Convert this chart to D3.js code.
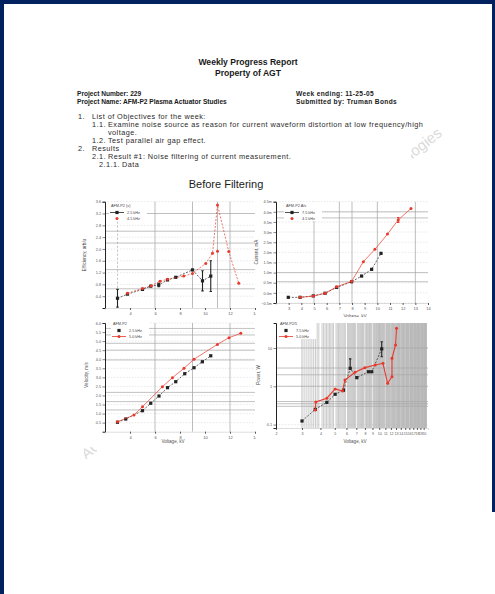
<!DOCTYPE html>
<html>
<head>
<meta charset="utf-8">
<script src="https://cdn.jsdelivr.net/npm/d3@7"></script>
<style>
  body { margin: 0; background: #fff; }
  svg { display: block; }
</style>
</head>
<body>
<svg id="page" width="495" height="594"></svg>
<script>
// ---------- Report header text ----------
const reportTitle = ["Weekly Progress Report", "Property of AGT"];
const projectLeft = ["Project Number:  229", "Project Name:  AFM-P2 Plasma Actuator Studies"];
const projectRight = ["Week ending:  11-25-05", "Submitted by:  Truman Bonds"];
const outlineNums = ["1.", "1.1.", "", "1.2.", "2.", "2.1.", "2.1.1."];
const outlineText = [
  "List of Objectives for the week:",
  "Examine noise source as reason for current waveform distortion at low frequency/high",
  "voltage.",
  "Test parallel air gap effect.",
  "Results",
  "Result #1:  Noise filtering of current measurement.",
  "Data"
];
const sectionTitle = "Before Filtering";
const watermarkText = "AGT Technologies";

// ---------- Efficiency vs voltage ----------
const effVoltBlack = [3.0, 3.8, 5.0, 5.66, 6.3, 7.0, 7.66, 9.0, 9.8, 10.46];
const effBlack     = [0.33, 0.47, 0.63, 0.74, 0.78, 0.95, 1.04, 1.29, 0.92, 1.08];
const effBlackErr  = [0.30, 0, 0, 0, 0.06, 0, 0, 0, 0.34, 0.52];
const effVoltRed   = [3.8, 5.0, 5.7, 6.4, 7.0, 8.3, 9.0, 10.06, 10.6, 11.0, 11.9, 12.7];
const effRed       = [0.50, 0.66, 0.75, 0.91, 0.97, 1.08, 1.17, 1.51, 1.85, 3.49, 1.91, 0.84];
const effRedExtraV = [11.0];
const effRedExtra  = [1.92];
const effYTicks = [0.4, 0.8, 1.2, 1.6, 2.0, 2.4, 2.8, 3.2, 3.6];
const effXTicks = [4, 6, 8, 10, 12, 14];
const effGridY = [0.65, 1.3, 2.2, 2.6, 3.2];
const effGridX = [6, 9, 11, 12];
const effLegend = ["AFM-P2 (v)", "2.5 kHz", "4.5 kHz"];

// ---------- Current vs voltage ----------
const curVoltBlack = [2.97, 3.9, 4.94, 5.87, 6.79, 7.97, 8.76, 9.55, 10.29];
const curBlack     = [-0.22, -0.22, -0.15, -0.02, 0.27, 0.55, 0.83, 1.16, 1.95];
const curVoltRed   = [3.9, 4.94, 5.87, 6.79, 7.97, 8.9, 9.81, 10.8, 11.65, 12.66];
const curRed       = [-0.22, -0.16, -0.02, 0.30, 0.57, 1.54, 2.15, 2.9, 3.6, 4.17];
const curRedErr    = [0, 0, 0, 0, 0, 0, 0, 0, 0.12, 0];
const curYTicks = [-0.5, 0, 0.5, 1.0, 1.5, 2.0, 2.5, 3.0, 3.5, 4.0, 4.5];
const curXTicks = [3, 4, 5, 6, 7, 8, 9, 10, 11, 12, 13, 14];
const curGridY = [0.55, 1.0, 3.7, 4.0];
const curGridX = [5, 7, 8, 10, 13];
const curLegend = ["AFM-P2 A/s", "7.5 kHz", "4.5 kHz"];

// ---------- Velocity vs voltage ----------
const velVoltBlack = [3.0, 3.66, 5.0, 5.66, 6.32, 7.0, 7.66, 8.38, 9.12, 9.79, 10.46];
const velBlack     = [0.52, 0.70, 1.16, 1.57, 1.97, 2.43, 2.76, 3.20, 3.53, 3.86, 4.19];
const velVoltRed   = [3.0, 4.32, 5.0, 6.59, 7.39, 8.32, 9.12, 10.99, 11.92, 12.86];
const velRed       = [0.55, 0.92, 1.38, 2.48, 2.98, 3.50, 4.00, 4.82, 5.19, 5.43];
const velYTicks = [0.5, 1.0, 1.5, 2.0, 2.5, 3.0, 3.5, 4.0, 4.5, 5.0, 5.5, 6.0];
const velXTicks = [4, 6, 8, 10, 12, 14];
const velGridY = [1.2, 1.66, 2.17, 3.96, 4.5, 4.88, 5.34, 5.7];
const velGridX = [6, 9, 12];
const velLegend = ["AFM-P2", "2.5 kHz", "5.0 kHz"];

// ---------- Power vs voltage (log-log) ----------
const powVoltBlack = [3.0, 3.69, 4.42, 5.03, 5.73, 6.36, 7.05, 8.45, 8.9, 10.4];
const powBlack     = [0.124, 0.25, 0.38, 0.62, 0.79, 2.95, 1.68, 2.4, 2.4, 9.5];
const powBlackLo   = [0.124, 0.25, 0.38, 0.62, 0.79, 2.95, 1.68, 2.4, 2.4, 5.9];
const powBlackHi   = [0.124, 0.25, 0.38, 0.62, 0.79, 5.2, 1.68, 2.4, 2.4, 14.6];
const powVoltRed   = [3.69, 3.72, 4.42, 5.03, 5.64, 5.86, 6.86, 8.0, 9.4, 10.6, 11.4, 12.2, 12.2, 12.9, 13.1];
const powRed       = [0.24, 0.39, 0.49, 0.85, 0.75, 1.46, 2.32, 3.07, 3.6, 3.98, 1.2, 1.78, 5.38, 11.98, 32.7];
const powXTicks = [2, 3, 4, 5, 6, 7, 8, 9, 10, 11, 12, 13, 14, 15, 16, 17, 18, 19, 20];
const powYTicks = [0.1, 1, 10];
const powGridY = [10, 3, 2, 1, 0.4, 0.35, 0.3];
const powLegend = ["AFM-P2/5", "7.5 kHz", "5.0 kHz"];

const FONT = "'Liberation Sans', Arial, Helvetica, sans-serif";
const RED = "#e8392c";
const DARK = "#222";
const svg = d3.select("#page");
const defs = svg.append("defs");

// ---------- page ----------
svg.append("rect").attr("width", 495).attr("height", 594).attr("fill", "#fff");

// faint watermark; only the parts outside the text and chart blocks show
defs.append("clipPath").attr("id", "wm-top")
  .append("rect").attr("x", 411).attr("y", 100).attr("width", 50).attr("height", 70);
defs.append("clipPath").attr("id", "wm-bottom")
  .append("rect").attr("x", 84).attr("y", 447).attr("width", 13).attr("height", 12);
function watermark(x, y, anchor, clip) {
  svg.append("g").attr("clip-path", `url(#${clip})`)
    .append("text")
    .attr("transform", `translate(${x},${y}) rotate(-38)`)
    .attr("text-anchor", anchor)
    .attr("font-family", FONT).attr("font-size", 15)
    .attr("fill", "#dadada")
    .text(watermarkText);
}
watermark(443, 135, "end", "wm-top");
watermark(86, 460, "start", "wm-bottom");

// ---------- header ----------
const T = (x, y, s, size, weight, anchor) =>
  svg.append("text").attr("x", x).attr("y", y).text(s)
    .attr("font-family", FONT).attr("font-size", size)
    .attr("font-weight", weight || "normal")
    .attr("text-anchor", anchor || "start")
    .attr("fill", "#1a1a1a");

reportTitle.forEach((s, i) => T(248, 65 + i * 10.5, s, 8.6, "bold", "middle"));
projectLeft.forEach((s, i) => T(77, 95.5 + i * 8, s, 6.6, "bold"));
projectRight.forEach((s, i) => T(296, 95.5 + i * 8, s, 6.6, "bold").attr("letter-spacing", 0.35));

const numX = [78, 92, 92, 92, 78, 92, 99];
const txtX = [92, 108, 108, 108, 92, 108, 122];
outlineText.forEach((s, i) => {
  const yy = 118.5 + i * 8;
  if (outlineNums[i]) T(numX[i], yy, outlineNums[i], 7.3).attr("letter-spacing", 0.45).attr("fill", "#2a2a2a");
  T(txtX[i], yy, s, 7.3).attr("letter-spacing", 0.45).attr("fill", "#2a2a2a");
});
T(226, 187.5, sectionTitle, 11, "normal", "middle");

// ---------- generic panel ----------
function panel(o) {
  const g = svg.append("g");
  const x = o.x, y = o.y;
  const [xa, xb] = x.range();
  const [yb, ya] = y.range();

  g.append("rect").attr("x", o.box[0]).attr("y", o.box[1])
    .attr("width", o.box[2]).attr("height", o.box[3]).attr("fill", "#fff");

  // light dashed grid on every tick
  g.selectAll(null).data(o.yTicks).join("line")
    .attr("x1", xa).attr("x2", xb).attr("y1", d => y(d)).attr("y2", d => y(d))
    .attr("stroke", "#d0d0d0").attr("stroke-width", 0.5).attr("stroke-dasharray", "1.5,1.5");

  if (o.minorX) {
    g.selectAll(null).data(o.minorX).join("line")
      .attr("x1", d => x(d)).attr("x2", d => x(d)).attr("y1", ya).attr("y2", yb)
      .attr("stroke", "#b4b4b4").attr("stroke-width", 0.7);
  }
  // main grid
  g.selectAll(null).data(o.gridY).join("line")
    .attr("x1", xa).attr("x2", xb).attr("y1", d => y(d)).attr("y2", d => y(d))
    .attr("stroke", "#a8a8a8").attr("stroke-width", 0.7);
  g.selectAll(null).data(o.gridX).join("line")
    .attr("x1", d => x(d)).attr("x2", d => x(d)).attr("y1", ya).attr("y2", yb)
    .attr("stroke", "#a0a0a0").attr("stroke-width", 0.7);
  if (o.dashX) {
    g.selectAll(null).data(o.dashX).join("line")
      .attr("x1", d => x(d)).attr("x2", d => x(d)).attr("y1", ya).attr("y2", yb)
      .attr("stroke", "#999").attr("stroke-width", 0.6).attr("stroke-dasharray", "2,2");
  }

  // axes
  const ya_ = d3.axisLeft(y).tickValues(o.yTicks).tickSize(2.5).tickFormat(o.yFmt);
  const ga = g.append("g").attr("transform", `translate(${xa},0)`).call(ya_);
  ga.select(".domain").attr("stroke", "#222").attr("stroke-width", 1);
  ga.selectAll(".tick line").attr("stroke", "#333").attr("stroke-width", 0.6);
  ga.selectAll("text").attr("font-family", FONT).attr("font-size", 3.8).attr("fill", "#555").attr("x", -4);

  const xa_ = d3.axisBottom(x).tickValues(o.xTicks).tickSize(2).tickFormat(o.xFmt);
  const gx = g.append("g").attr("transform", `translate(0,${yb})`).call(xa_);
  gx.select(".domain").attr("stroke", "#bbb").attr("stroke-width", 0.5);
  gx.selectAll(".tick line").attr("stroke", "#333").attr("stroke-width", 0.8);
  gx.selectAll("text").attr("font-family", FONT).attr("font-size", o.xFont || 4).attr("fill", "#555").attr("y", 4);

  // axis titles
  g.append("text").attr("x", o.xTitle[0]).attr("y", o.xTitle[1]).attr("text-anchor", "middle")
    .attr("font-family", FONT).attr("font-size", 4.6).attr("fill", "#555").text("Voltage, kV");
  g.append("text").attr("transform", `translate(${o.yTitle[0]},${o.yTitle[1]}) rotate(-90)`)
    .attr("text-anchor", "middle").attr("font-family", FONT).attr("font-size", 4.6)
    .attr("fill", "#444").text(o.yLabel);

  // series
  const line = d3.line().x(d => x(d[0])).y(d => y(d[1]));
  o.series.forEach(s => {
    const pts = s.xs.map((v, i) => [v, s.ys[i]]);
    g.append("path").attr("d", line(pts)).attr("fill", "none")
      .attr("stroke", s.color).attr("stroke-width", s.width || 0.7)
      .attr("stroke-dasharray", s.dash || null);
    if (s.lo) {
      g.selectAll(null).data(pts.map((p, i) => [p[0], s.lo[i], s.hi[i]]).filter(d => d[1] !== d[2]))
        .join("path")
        .attr("d", d => `M${x(d[0]) - 1.2},${y(d[1])}H${x(d[0]) + 1.2}M${x(d[0])},${y(d[1])}V${y(d[2])}M${x(d[0]) - 1.2},${y(d[2])}H${x(d[0]) + 1.2}`)
        .attr("stroke", s.color).attr("stroke-width", 1.1).attr("fill", "none");
    }
    const mpts = s.extra ? pts.concat(s.extra) : pts;
    if (s.marker === "square") {
      g.selectAll(null).data(mpts).join("rect")
        .attr("x", d => x(d[0]) - 1.6).attr("y", d => y(d[1]) - 1.6)
        .attr("width", 3.2).attr("height", 3.2).attr("fill", s.color);
    } else {
      g.selectAll(null).data(mpts).join("circle")
        .attr("cx", d => x(d[0])).attr("cy", d => y(d[1])).attr("r", 1.5).attr("fill", s.color);
    }
  });

  // legend
  const [lx, ly] = o.legendAt;
  const lg = g.append("g").attr("transform", `translate(${lx},${ly})`);
  lg.append("rect").attr("x", -1).attr("y", -1).attr("width", 38).attr("height", 19).attr("fill", "#fff");
  lg.append("text").attr("x", 1).attr("y", 4).text(o.legend[0])
    .attr("font-family", FONT).attr("font-size", 3.8).attr("fill", "#444");
  o.series.forEach((s, i) => {
    const yy = 9.5 + i * 6;
    if (o.legendLines[i]) {
      lg.append("line").attr("x1", 0).attr("x2", 14).attr("y1", yy).attr("y2", yy)
        .attr("stroke", s.color).attr("stroke-width", 0.8);
    }
    if (s.marker === "square") {
      lg.append("rect").attr("x", 5.4).attr("y", yy - 1.6).attr("width", 3.2).attr("height", 3.2).attr("fill", s.color);
    } else {
      lg.append("circle").attr("cx", 7).attr("cy", yy).attr("r", 1.5).attr("fill", s.color);
    }
    lg.append("text").attr("x", 17).attr("y", yy + 1.4).text(o.legend[i + 1])
      .attr("font-family", FONT).attr("font-size", 3.8).attr("fill", "#444");
  });
}

// ---------- efficiency ----------
panel({
  x: d3.scaleLinear([2, 14], [105, 255]),
  y: d3.scaleLinear([0, 3.6], [308, 201.7]),
  box: [78, 190, 180, 127],
  yTicks: effYTicks, xTicks: effXTicks,
  yFmt: d3.format(".1f"), xFmt: d3.format("d"),
  gridY: effGridY, gridX: effGridX, dashX: [3],
  xTitle: [175, 321], yTitle: [86, 255], yLabel: "Efficiency, arb/u",
  series: [
    { xs: effVoltBlack, ys: effBlack, color: DARK, marker: "square", dash: "2,1.5",
      lo: effBlack.map((v, i) => v - effBlackErr[i]), hi: effBlack.map((v, i) => v + effBlackErr[i]) },
    { xs: effVoltRed, ys: effRed, color: RED, marker: "circle", dash: "2,1.5",
      extra: effRedExtraV.map((v, i) => [v, effRedExtra[i]]) }
  ],
  legend: effLegend, legendLines: [true, false], legendAt: [110, 203]
});

// ---------- current ----------
panel({
  x: d3.scaleLinear([2, 14], [276, 428]),
  y: d3.scaleLinear([-0.5, 4.5], [303, 201.7]),
  box: [256, 190, 199, 127],
  yTicks: curYTicks, xTicks: curXTicks,
  yFmt: d => d3.format(".1f")(d) + "m", xFmt: d3.format("d"),
  gridY: curGridY, gridX: curGridX,
  xTitle: [355, 318], yTitle: [258, 252], yLabel: "Current, mA",
  series: [
    { xs: curVoltBlack, ys: curBlack, color: DARK, marker: "square", dash: "2,1.5" },
    { xs: curVoltRed, ys: curRed, color: RED, marker: "circle",
      lo: curRed.map((v, i) => v - curRedErr[i]), hi: curRed.map((v, i) => v + curRedErr[i]) }
  ],
  legend: curLegend, legendLines: [true, false], legendAt: [285, 203]
});

// ---------- velocity ----------
panel({
  x: d3.scaleLinear([2, 14], [105, 255]),
  y: d3.scaleLinear([0, 6], [431.7, 323]),
  box: [78, 317, 180, 129],
  yTicks: velYTicks, xTicks: velXTicks,
  yFmt: d3.format(".1f"), xFmt: d3.format("d"),
  gridY: velGridY, gridX: velGridX,
  xTitle: [173, 443], yTitle: [88, 375], yLabel: "Velocity, m/s",
  series: [
    { xs: velVoltBlack, ys: velBlack, color: DARK, marker: "square", dash: "2,1.5" },
    { xs: velVoltRed, ys: velRed, color: RED, marker: "circle" }
  ],
  legend: velLegend, legendLines: [false, true], legendAt: [112, 321]
});

// ---------- power (log-log) ----------
const powMinor = [];
for (let k = 3; k < 21; k++) for (let j = 1; j < 10; j++) powMinor.push(k + j / 10);
panel({
  x: d3.scaleLog([2, 21.4], [276, 428]),
  y: d3.scaleLog([0.0814, 45], [428, 323]),
  box: [256, 317, 199, 129],
  yTicks: powYTicks, xTicks: powXTicks,
  yFmt: d => String(d), xFmt: d => String(d),
  xFont: 3.6,
  gridY: powGridY, gridX: [3, 10], minorX: powMinor,
  xTitle: [355, 443], yTitle: [260, 375], yLabel: "Power, W",
  series: [
    { xs: powVoltBlack, ys: powBlack, color: DARK, marker: "square", dash: "2,1.5",
      lo: powBlackLo, hi: powBlackHi },
    { xs: powVoltRed, ys: powRed, color: RED, marker: "circle", width: 1.1 }
  ],
  legend: powLegend, legendLines: [false, true], legendAt: [279, 321]
});

// ---------- frame ----------
const NAVY = "#02215f";
svg.append("rect").attr("x", 0).attr("y", 0).attr("width", 495).attr("height", 4).attr("fill", NAVY);
svg.append("rect").attr("x", 0).attr("y", 0).attr("width", 4).attr("height", 594).attr("fill", NAVY);
svg.append("rect").attr("x", 492).attr("y", 0).attr("width", 3).attr("height", 512).attr("fill", NAVY);
</script>
</body>
</html>
